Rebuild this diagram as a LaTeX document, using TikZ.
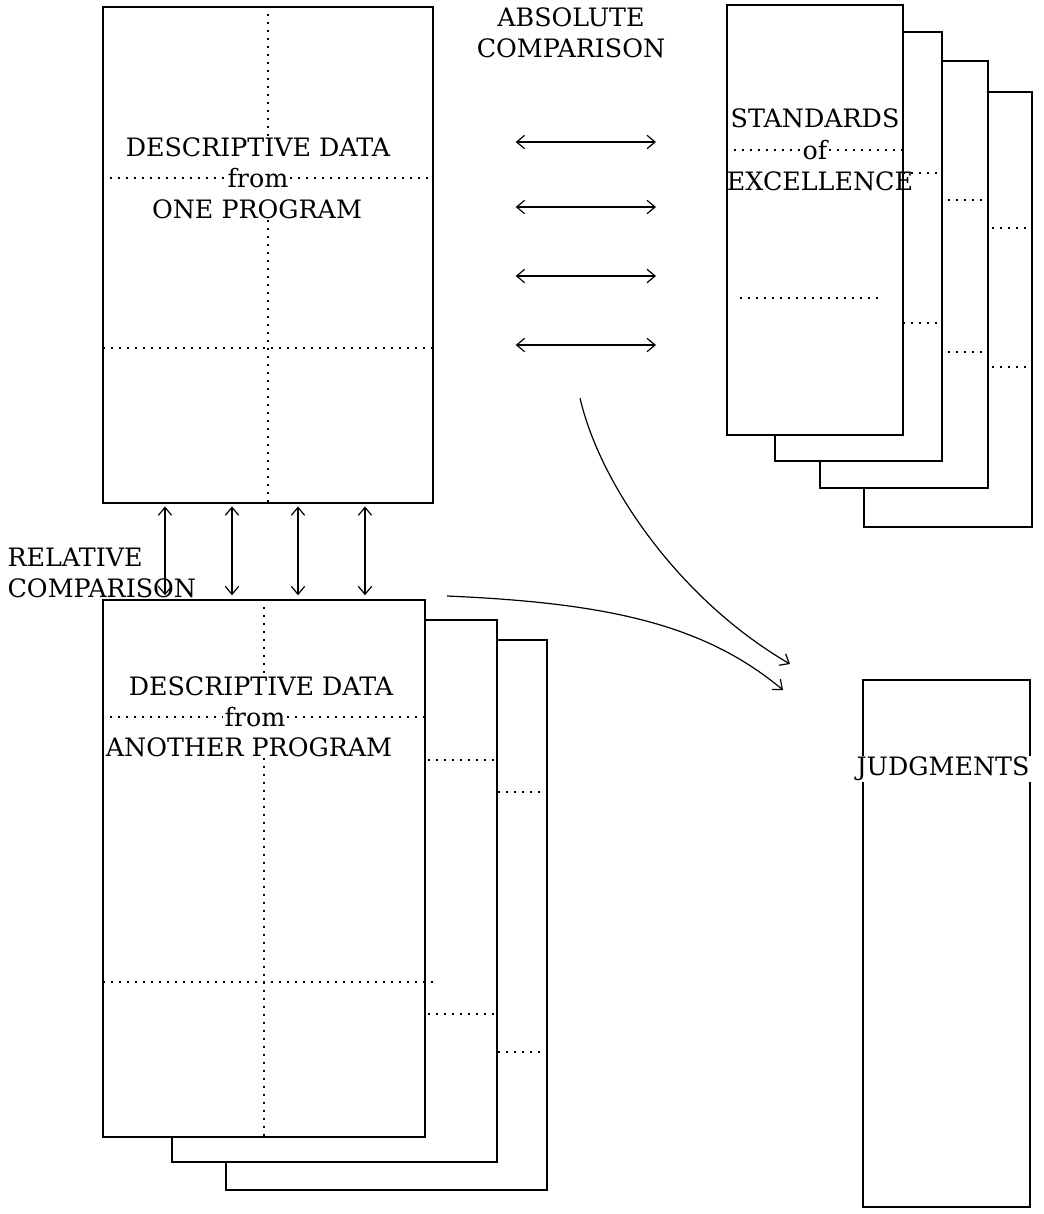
\documentclass[tikz,border=0pt]{standalone}
\usepackage{fontspec}
\setmainfont{DejaVu Serif}
\usetikzlibrary{positioning,arrows.meta}
\begin{document}
\begin{tikzpicture}[
  x=0.75pt,y=-0.75pt,
  >={Straight Barb[length=6pt,width=10pt]},
  font=\fontsize{19}{23}\selectfont,
  sheet/.style={draw,line width=1.1pt,fill=white,inner sep=0pt},
  rule/.style={dash pattern=on 1.5pt off 4.5pt,line width=1pt},
  cmp/.style={<->,line width=0.9pt,shorten <=2pt,shorten >=3pt},
  flow/.style={->,line width=0.9pt},
  lbl/.style={inner sep=1pt}]

\useasboundingbox (0,0) rectangle (1043,1214);

% --- standards of excellence: four sheets, back to front ---
\node[sheet,minimum width=126pt,minimum height=326.25pt] (std4) at (948,309.5) {};
\draw[rule] (864,228) -- (1032,228);
\draw[rule] (864,367) -- (1032,367);
\node[sheet,minimum width=126pt,minimum height=320.25pt] (std3) at (904,274.5) {};
\draw[rule] (820,200) -- (988,200);
\draw[rule] (820,352) -- (988,352);
\node[sheet,minimum width=125.25pt,minimum height=321.75pt] (std2) at (858.5,246.5) {};
\draw[rule] (775,173) -- (942,173);
\draw[rule] (775,323) -- (942,323);
\node[sheet,minimum width=132pt,minimum height=322.5pt] (std) at (815,220) {};
\node[lbl] (stdt) at (815,118) {STANDARDS};
\node[lbl] (stdo) at (815,150) {of};
\node[lbl] (stde) at (820,181) {EXCELLENCE};
\draw[rule] (std.west |- stdo) -- (stdo.west);
\draw[rule] (stdo.east) -- (std.east |- stdo);
\draw[rule] (740,298) -- (880,298);

% --- one program ---
\node[sheet,minimum width=247.5pt,minimum height=372pt] (one) at (268,255) {};
\node[lbl] (onet) at (258,147) {DESCRIPTIVE DATA};
\node[lbl] (onef) at (258,178) {from};
\node[lbl] (oneb) at (257,209) {ONE PROGRAM};
\draw[rule] (one.north) -- (one.north |- onet.north);
\draw[rule] (one.north |- oneb.south) -- (one.south);
\draw[rule] (one.west |- onef) -- (onef.west);
\draw[rule] (onef.east) -- (one.east |- onef);
\draw[rule] (103,348) -- (433,348);

% --- another program: three sheets, back to front ---
\node[sheet,minimum width=240.75pt,minimum height=412.5pt] (two3) at (386.5,915) {};
\draw[rule] (226,792) -- (547,792);
\draw[rule] (226,1052) -- (547,1052);
\node[sheet,minimum width=243.75pt,minimum height=406.5pt] (two2) at (334.5,891) {};
\draw[rule] (172,760) -- (497,760);
\draw[rule] (172,1014) -- (497,1014);
\node[sheet,minimum width=241.5pt,minimum height=402.75pt] (two) at (264,868.5) {};
\node[lbl] (twot) at (261,686) {DESCRIPTIVE DATA};
\node[lbl] (twof) at (255,717) {from};
\node[lbl] (twob) at (249,747) {ANOTHER PROGRAM};
\draw[rule] (two.north) -- (two.north |- twot.north);
\draw[rule] (two.north |- twob.south) -- (two.south);
\draw[rule] (two.west |- twof) -- (twof.west);
\draw[rule] (twof.east) -- (two.east |- twof);
\draw[rule] (103,982) -- (433,982);

% --- judgments ---
\node[sheet,minimum width=125.25pt,minimum height=395.25pt] (jud) at (946.5,943.5) {};
\node[lbl,fill=white] (judt) at (943,769) {JUDGMENTS};

% --- comparison labels ---
\node[lbl,align=center] (abslbl) at (571,33) {ABSOLUTE\\COMPARISON};
\node[lbl,align=left,anchor=west] (rellbl) at (6,573) {RELATIVE\\COMPARISON};

% absolute: box against standards
\foreach \y [count=\i] in {142,207,276,345} {
  \coordinate (al\i) at (513,\y);
  \coordinate (ar\i) at (660,\y);
  \draw[cmp] (al\i) -- (ar\i);
}

% relative: one program against another
\foreach \x in {165,232,298,365}
  \draw[cmp] (\x,0 |- one.south) -- (\x,0 |- two.north);

% both lead to judgments
\coordinate (abs) at (580,398);
\coordinate (rel) at (447,596);
\coordinate (jin1) at (790,664);
\coordinate (jin2) at (783,690);
\draw[flow] (abs) .. controls (600,485) and (680,600) .. (jin1);
\draw[flow] (rel) .. controls (610,603) and (705,625) .. (jin2);

\end{tikzpicture}
\end{document}
